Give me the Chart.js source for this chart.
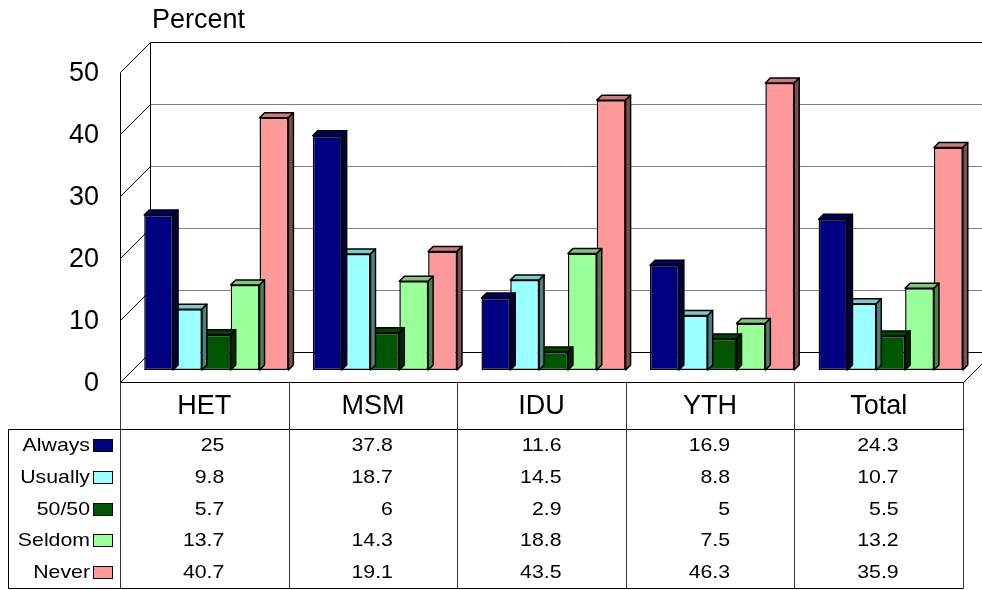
<!DOCTYPE html>
<html>
<head>
<meta charset="utf-8">
<script src="https://cdn.jsdelivr.net/npm/chart.js"></script>
<style>
  html, body { margin: 0; padding: 0; background: #fff; }
  #wrap { width: 982px; height: 590px; }
</style>
</head>
<body>
<div id="wrap"><canvas id="chart" width="982" height="590"></canvas></div>
<script>
const groups = ['HET', 'MSM', 'IDU', 'YTH', 'Total'];
const answers = ['Always', 'Usually', '50/50', 'Seldom', 'Never'];
const always  = [25, 37.8, 11.6, 16.9, 24.3];
const usually = [9.8, 18.7, 14.5, 8.8, 10.7];
const fifty   = [5.7, 6, 2.9, 5, 5.5];
const seldom  = [13.7, 14.3, 18.8, 7.5, 13.2];
const never   = [40.7, 19.1, 43.5, 46.3, 35.9];
const series = [always, usually, fifty, seldom, never];
const yTicks = [0, 10, 20, 30, 40, 50];

const colors = [[0, 0, 128], [153, 255, 255], [0, 85, 0], [153, 255, 153], [255, 153, 153]];

const DEPTH = 30;   // depth of the walls / floor
const BAR_Z = 12;   // bars sit this far behind the front plane
const BAR_D = 5;    // bar thickness
const FONT = '"Liberation Sans", Arial, sans-serif';

const rgb = (c, k = 1) => `rgb(${Math.round(c[0] * k)},${Math.round(c[1] * k)},${Math.round(c[2] * k)})`;
const px = v => Math.round(v) + 0.5;

function line(ctx, x1, y1, x2, y2) {
    ctx.beginPath();
    ctx.moveTo(x1, y1);
    ctx.lineTo(x2, y2);
    ctx.stroke();
}

function text(ctx, str, x, y, align, size, sx = 1) {
    ctx.save();
    ctx.translate(x, y);
    ctx.scale(sx, 1);
    ctx.font = `${size}px ${FONT}`;
    ctx.textAlign = align;
    ctx.textBaseline = 'middle';
    ctx.fillStyle = '#000';
    ctx.fillText(str, 0, 0);
    ctx.restore();
}

function poly(ctx, pts, fill) {
    ctx.beginPath();
    ctx.moveTo(pts[0][0], pts[0][1]);
    pts.slice(1).forEach(p => ctx.lineTo(p[0], p[1]));
    ctx.closePath();
    ctx.fillStyle = fill;
    ctx.fill();
    ctx.stroke();
}

// front / back plane helpers, built from the chart's own scales
function planes(chart) {
    const a = chart.chartArea;
    const y = chart.scales.y;
    const fl = a.left - BAR_Z, fr = a.right - BAR_Z;
    return {
        fl, fr, bl: fl + DEPTH, br: fr + DEPTH,
        fy: v => y.getPixelForValue(v) + BAR_Z,
        by: v => y.getPixelForValue(v) + BAR_Z - DEPTH
    };
}

const box3d = {
    id: 'box3d',
    beforeDatasetsDraw(chart) {
        const ctx = chart.ctx;
        const p = planes(chart);
        ctx.save();
        ctx.lineWidth = 1;
        yTicks.forEach(v => {
            const edge = v === 0 || v === yTicks[yTicks.length - 1];
            ctx.strokeStyle = edge ? '#000' : '#808080';
            line(ctx, px(p.bl), px(p.by(v)), p.br, px(p.by(v)));
            ctx.strokeStyle = '#000';
            line(ctx, px(p.fl), px(p.fy(v)), px(p.bl), px(p.by(v)));
        });
        ctx.strokeStyle = '#000';
        const top = yTicks[yTicks.length - 1];
        line(ctx, px(p.fl), px(p.fy(top)), px(p.fl), px(p.fy(0)));
        line(ctx, px(p.bl), px(p.by(top)), px(p.bl), px(p.by(0)));
        // floor
        line(ctx, px(p.fl), px(p.fy(0)), px(p.fr), px(p.fy(0)));
        line(ctx, px(p.fr), px(p.fy(0)), px(p.br), px(p.by(0)));
        ctx.restore();
    },
    beforeDatasetDraw(chart, args) {
        const ctx = chart.ctx;
        const c = colors[args.index];
        ctx.save();
        ctx.lineWidth = 1.5;
        ctx.lineJoin = 'round';
        ctx.strokeStyle = '#000';
        chart.getDatasetMeta(args.index).data.forEach(bar => {
            const l = bar.x - bar.width / 2, r = bar.x + bar.width / 2;
            const t = bar.y, b = bar.base;
            poly(ctx, [[l, t], [l + BAR_D, t - BAR_D], [r + BAR_D, t - BAR_D], [r, t]], rgb(c, 0.8));
            poly(ctx, [[r, t], [r + BAR_D, t - BAR_D], [r + BAR_D, b - BAR_D], [r, b]], rgb(c, 0.5));
        });
        ctx.restore();
    },
    afterDraw(chart) {
        const ctx = chart.ctx;
        const p = planes(chart);
        ctx.save();

        text(ctx, 'Percent', p.bl + 2, 21, 'left', 27);
        yTicks.forEach(v => text(ctx, String(v), p.fl - 21, p.fy(v) + 2, 'right', 27));

        // data table under the floor
        const colW = (p.fr - p.fl) / groups.length;
        const top = p.fy(0), headB = top + 47, rowH = 31.8;
        const bottom = headB + rowH * answers.length;
        const outer = 8;

        ctx.strokeStyle = '#000';
        ctx.lineWidth = 1;
        line(ctx, px(outer), px(headB), px(p.fr), px(headB));
        line(ctx, px(outer), px(bottom), px(p.fr), px(bottom));
        line(ctx, px(outer), px(headB), px(outer), px(bottom));
        ctx.strokeStyle = '#333';
        for (let i = 0; i <= groups.length; i++) {
            const x = px(p.fl + i * colW);
            line(ctx, x, px(top), x, px(bottom));
        }
        ctx.strokeStyle = '#000';

        groups.forEach((g, i) => {
            const cx = p.fl + (i + 0.5) * colW;
            text(ctx, g, cx, (top + headB) / 2 + 1, 'center', 27);
            series.forEach((s, j) => {
                text(ctx, String(s[i]), cx + 20, headB + (j + 0.5) * rowH + 1, 'right', 18.5, 1.15);
            });
        });

        answers.forEach((name, j) => {
            const cy = headB + (j + 0.5) * rowH;
            text(ctx, name, p.fl - 30, cy + 1, 'right', 18.5, 1.15);
            ctx.fillStyle = rgb(colors[j]);
            ctx.fillRect(p.fl - 27, Math.round(cy - 6), 20, 13);
            ctx.strokeRect(px(p.fl - 27), px(cy - 6), 19, 12);
        });
        ctx.restore();
    }
};

new Chart(document.getElementById('chart'), {
    type: 'bar',
    data: {
        labels: groups,
        datasets: series.map((d, i) => ({
            label: answers[i],
            data: d,
            backgroundColor: rgb(colors[i]),
            borderColor: '#000',
            borderWidth: 1.5,
            borderSkipped: false,
            categoryPercentage: 0.855,
            barPercentage: 1
        }))
    },
    options: {
        responsive: false,
        animation: false,
        events: [],
        layout: { padding: { left: 132, right: 7, top: 60, bottom: 220 } },
        plugins: { legend: { display: false }, tooltip: { enabled: false } },
        scales: {
            x: { display: false },
            y: { display: false, min: 0, max: 50 }
        }
    },
    plugins: [box3d]
});
</script>
</body>
</html>
